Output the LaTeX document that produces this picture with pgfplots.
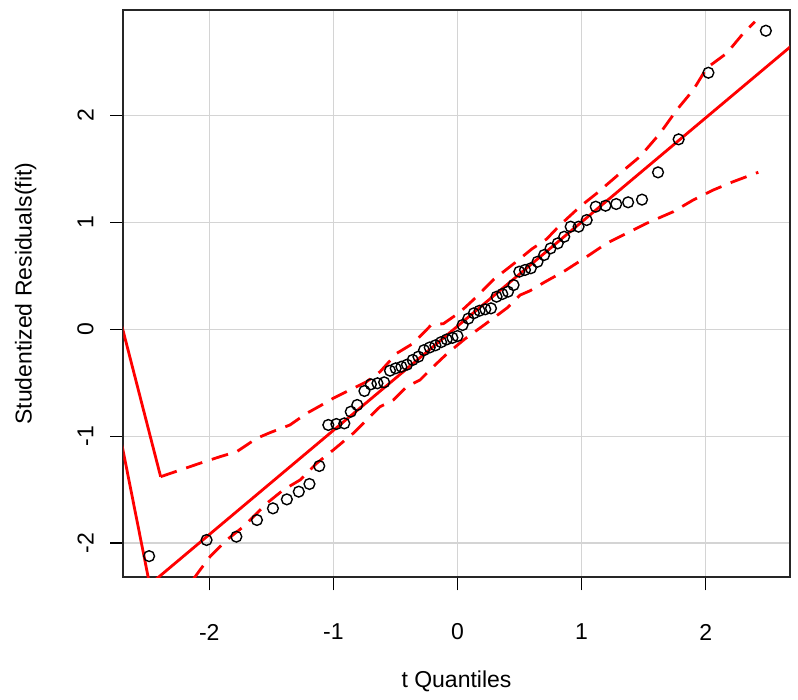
\documentclass[border=0pt]{standalone}
\usepackage{fontspec}
\setmainfont{Liberation Sans}
\usepackage{pgfplots}
\pgfplotsset{compat=1.18}

% studentized residuals against t quantiles
\pgfplotstableread{
x y
-2.485 -2.122
-2.022 -1.971
-1.782 -1.940
-1.616 -1.784
-1.487 -1.675
-1.375 -1.591
-1.279 -1.519
-1.193 -1.447
-1.114 -1.279
-1.041 -0.895
-0.976 -0.886
-0.912 -0.880
-0.860 -0.771
-0.808 -0.708
-0.750 -0.577
-0.698 -0.515
-0.645 -0.505
-0.591 -0.496
-0.544 -0.387
-0.498 -0.365
-0.452 -0.350
-0.407 -0.331
-0.361 -0.287
-0.315 -0.256
-0.270 -0.195
-0.224 -0.170
-0.178 -0.150
-0.132 -0.120
-0.087 -0.095
-0.041 -0.080
0.000 -0.063
0.041 0.040
0.087 0.100
0.132 0.150
0.178 0.174
0.224 0.187
0.270 0.196
0.315 0.305
0.361 0.330
0.407 0.352
0.452 0.414
0.498 0.539
0.544 0.555
0.591 0.571
0.645 0.632
0.698 0.695
0.750 0.757
0.808 0.804
0.860 0.866
0.912 0.960
0.976 0.960
1.041 1.022
1.114 1.147
1.193 1.156
1.279 1.172
1.375 1.188
1.487 1.213
1.616 1.468
1.782 1.777
2.022 2.400
2.485 2.793
}\residtab

\pgfplotstableread{
x y
-2.392 -1.379
-2.075 -1.253
-1.914 -1.192
-1.779 -1.145
-1.618 -1.020
-1.511 -0.967
-1.350 -0.895
-1.215 -0.786
-1.108 -0.717
-1.001 -0.645
-0.840 -0.552
-0.732 -0.490
-0.624 -0.397
-0.490 -0.225
-0.356 -0.131
-0.208 0.045
-0.114 0.052
0.020 0.160
0.150 0.300
0.290 0.465
0.455 0.615
0.600 0.752
0.719 0.845
0.826 0.975
0.987 1.147
1.122 1.272
1.309 1.459
1.470 1.615
1.632 1.833
1.766 2.051
1.900 2.239
2.008 2.444
2.169 2.582
2.303 2.769
2.397 2.877
}\uppertab

\pgfplotstableread{
x y
-2.130 -2.340
-2.075 -2.252
-1.994 -2.127
-1.860 -1.971
-1.726 -1.847
-1.537 -1.628
-1.404 -1.503
-1.269 -1.410
-1.135 -1.254
-1.001 -1.129
-0.840 -0.973
-0.732 -0.848
-0.624 -0.724
-0.517 -0.661
-0.409 -0.537
-0.302 -0.474
-0.195 -0.350
-0.087 -0.231
0.060 -0.090
0.220 0.045
0.400 0.200
0.504 0.320
0.584 0.360
0.700 0.440
0.865 0.547
1.041 0.679
1.202 0.804
1.363 0.898
1.525 0.992
1.739 1.100
1.900 1.210
2.061 1.303
2.222 1.381
2.424 1.469
}\lowertab

\begin{document}
\begin{tikzpicture}
\begin{axis}[
    scale only axis,
    width=666.4pt, height=567.3pt,
    xmin=-2.693, xmax=2.677,
    ymin=-2.320, ymax=2.987,
    xtick={-2,-1,0,1,2},
    ytick={-2,-1,0,1,2},
    xticklabels={-2,-1,0,1,2},
    yticklabels={{\rotatebox{90}{-2}},{\rotatebox{90}{-1}},{\rotatebox{90}{0}},{\rotatebox{90}{1}},{\rotatebox{90}{2}}},
    tick pos=left,
    tick align=outside,
    major tick length=13pt,
    every tick/.style={black, line width=1.3pt},
    grid=major,
    major grid style={draw=black!17, line width=1.3pt},
    axis line style={draw=black!85, line width=1.6pt},
    ticklabel style={font=\fontsize{23}{27}\selectfont},
    label style={font=\fontsize{23}{27}\selectfont},
    xticklabel style={anchor=center, yshift=-41.7pt},
    yticklabel style={anchor=center, xshift=-24.8pt},
    xlabel={t Quantiles},
    ylabel={Studentized Residuals(fit)},
    xlabel style={at={(axis description cs:0.5,-0.1828)}, anchor=center},
    ylabel style={at={(axis description cs:-0.1464,0.5)}, anchor=center},
]
\coordinate (ll) at (rel axis cs:0,0);
\coordinate (ur) at (rel axis cs:1,1);

\addplot[only marks, mark=o, mark size=5.4pt, mark options={draw=black, line width=1.4pt}] table[x=x, y=y] {\residtab};

% reference line
\addplot[red, line width=2.8pt] coordinates {(-2.75,-2.651) (2.75,2.709)};

% confidence envelope
\addplot[red, line width=2.8pt, dash pattern=on 17pt off 10pt] table[x=x, y=y] {\uppertab};
\addplot[red, line width=2.8pt, dash pattern=on 17pt off 10pt] table[x=x, y=y] {\lowertab};

% solid segments at the left end
\addplot[red, line width=2.8pt] coordinates {(-2.75,0.237) (-2.392,-1.379)};
\addplot[red, line width=2.8pt] coordinates {(-2.72,-0.987) (-2.470,-2.450)};
\end{axis}
\pgfresetboundingbox
\path ([shift={(-123.3pt,-122.7pt)}]ll) rectangle ([shift={(8.3pt,10pt)}]ur);
\end{tikzpicture}
\end{document}
